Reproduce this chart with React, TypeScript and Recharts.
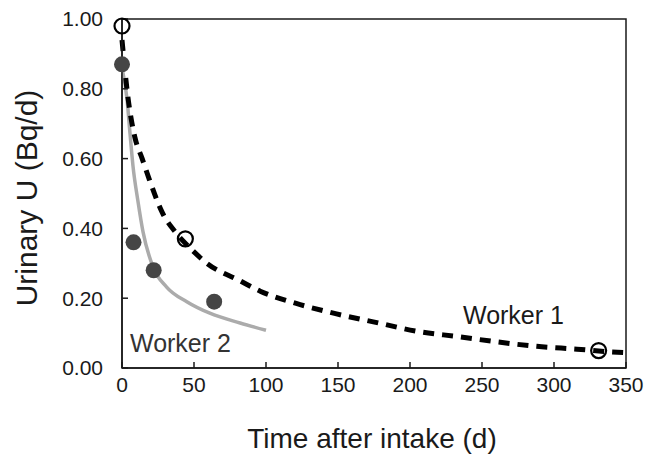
import React from 'react';
import {
  ComposedChart,
  Line,
  Scatter,
  XAxis,
  YAxis,
  ReferenceArea,
} from 'recharts';

// measured points (days after intake, Bq/d)
const worker1Days = [0, 44, 331];
const worker1Urine = [0.98, 0.37, 0.05];
const worker2Days = [0, 8, 22, 64];
const worker2Urine = [0.87, 0.36, 0.28, 0.19];

// fitted curves
const fit1Days = [0, 4, 9, 14, 19, 28, 37, 47, 59, 82, 96, 121, 149, 177, 205, 233, 260, 288, 316, 344, 350];
const fit1Values = [0.94, 0.78, 0.66, 0.6, 0.54, 0.445, 0.39, 0.345, 0.3, 0.25, 0.22, 0.185, 0.155, 0.13, 0.105, 0.09, 0.075, 0.062, 0.054, 0.045, 0.044];
const fit2Days = [0, 3.5, 5.6, 7.6, 11, 14.6, 21.5, 31, 45, 61, 82, 100];
const fit2Values = [0.86, 0.77, 0.67, 0.58, 0.48, 0.39, 0.29, 0.232, 0.19, 0.157, 0.129, 0.108];

const xTicks = [0, 50, 100, 150, 200, 250, 300, 350];
const yTicks = [0, 0.2, 0.4, 0.6, 0.8, 1.0];

const zip = (xs: number[], ys: number[]) => xs.map((x, i) => ({ x, y: ys[i] }));

const FONT = '"Liberation Sans", Arial, sans-serif';
const INK = '#1a1a1a';

export default function App() {
  const w1 = zip(worker1Days, worker1Urine);
  const w2 = zip(worker2Days, worker2Urine);
  const f1 = zip(fit1Days, fit1Values);
  const f2 = zip(fit2Days, fit2Values);

  const tick = { fontSize: 21, fill: INK, fontFamily: FONT };

  return (
    <div style={{ position: 'absolute', left: 0, top: 0, width: 646, height: 455, background: '#fff' }}>
      <ComposedChart width={646} height={455} margin={{ top: 19, right: 20, left: 62, bottom: 57 }}>
        <XAxis
          dataKey="x"
          type="number"
          domain={[0, 350]}
          ticks={xTicks}
          allowDuplicatedCategory={false}
          height={30}
          tickSize={-6}
          tickMargin={15}
          tick={tick}
          stroke={INK}
          strokeWidth={1.5}
        />
        <YAxis
          type="number"
          domain={[0, 1]}
          ticks={yTicks}
          width={60}
          tickSize={-6}
          tickMargin={25}
          tick={tick}
          tickFormatter={(v: number) => v.toFixed(2)}
          stroke={INK}
          strokeWidth={1.5}
        />
        <ReferenceArea x1={0} x2={350} y1={0} y2={1} fill="none" stroke={INK} strokeWidth={1.5} />

        <Line data={f2} dataKey="y" type="monotone" stroke="#ababab" strokeWidth={3.5} dot={false} isAnimationActive={false} />
        <Line data={f1} dataKey="y" type="monotone" stroke="#000" strokeWidth={5} strokeDasharray="11 8" dot={false} isAnimationActive={false} />

        <Scatter
          data={w2}
          dataKey="y"
          isAnimationActive={false}
          shape={(p: any) => <circle cx={p.cx} cy={p.cy} r={8} fill="#454545" />}
        />
        <Scatter
          data={w1}
          dataKey="y"
          isAnimationActive={false}
          shape={(p: any) => <circle cx={p.cx} cy={p.cy} r={7.5} fill="none" stroke="#000" strokeWidth={2.2} />}
        />
      </ComposedChart>

      <div style={{ position: 'absolute', left: 372, top: 439, transform: 'translate(-50%, -50%)', fontFamily: FONT, fontSize: 28, color: INK, whiteSpace: 'nowrap' }}>
        Time after intake (d)
      </div>
      <div style={{ position: 'absolute', left: 27, top: 198, transform: 'translate(-50%, -50%) rotate(-90deg)', fontFamily: FONT, fontSize: 30, color: INK, whiteSpace: 'nowrap' }}>
        Urinary U (Bq/d)
      </div>
      <div style={{ position: 'absolute', left: 130, top: 343, transform: 'translateY(-50%)', fontFamily: FONT, fontSize: 25, color: '#333', whiteSpace: 'nowrap' }}>
        Worker 2
      </div>
      <div style={{ position: 'absolute', left: 463, top: 315, transform: 'translateY(-50%)', fontFamily: FONT, fontSize: 25, color: INK, whiteSpace: 'nowrap' }}>
        Worker 1
      </div>
    </div>
  );
}
